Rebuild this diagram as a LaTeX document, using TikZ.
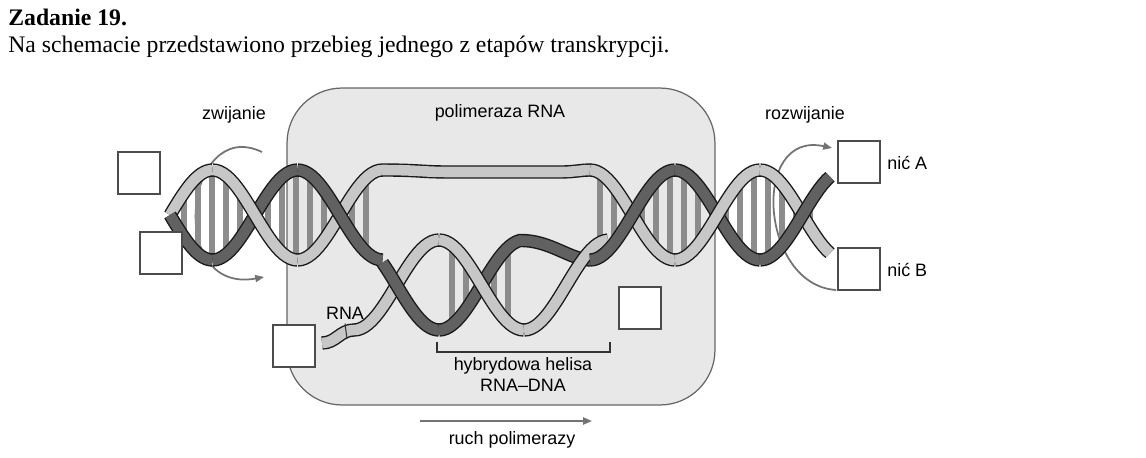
\documentclass[tikz,border=0pt]{standalone}
\usepackage{fontspec}
\setmainfont{Liberation Serif}
\newfontfamily\labfont{Liberation Sans}
\usetikzlibrary{arrows.meta}
\begin{document}
\begin{tikzpicture}[x=0.02cm,y=-0.02cm,
  lab/.style={font=\labfont\fontsize{10.2}{12}\selectfont,inner sep=0pt},
  box/.style={draw=black!70,fill=white,line width=0.6pt,minimum size=0.84cm,inner sep=0pt},
  dk/.style={draw=black!62,line width=6pt,preaction={draw=black!90,line width=7.6pt}},
  lt/.style={draw=black!22,line width=6pt,preaction={draw=black!90,line width=7.6pt}},
  rung/.style={draw=black!45,line width=3.2pt},
  garrow/.style={draw=black!55,line width=1pt,-{Triangle[length=5pt,width=4pt]}}]
\useasboundingbox (0,0) rectangle (1146,457);
\node[anchor=west,inner sep=0pt,font=\bfseries\fontsize{13.5}{15}\selectfont] (title) at (8,17) {Zadanie 19.};
\node[anchor=west,inner sep=0pt,font=\fontsize{13.5}{15}\selectfont] (intro) at (8,47) {Na schemacie przedstawiono przebieg jednego z etapów transkrypcji.};
% polymerase
\node[draw=black!60,fill=black!9,rounded corners=1.1cm,line width=0.7pt,minimum width=8.56cm,minimum height=6.34cm] (pol) at (501,246.5) {};
\node[lab] (polt) at (500,113) {polimeraza RNA};
\node[lab] (zw) at (234,115) {zwijanie};
\node[lab] (rw) at (805,115) {rozwijanie};
% curved arrows
\coordinate (la1) at (262,152); \coordinate (la2) at (264,277);
\draw[garrow] (la1) .. controls (185,115) and (165,295) .. (la2);
\coordinate (ra1) at (836,290); \coordinate (ra2) at (832,148);
\draw[garrow] (ra1) .. controls (760,285) and (750,130) .. (ra2);
% rungs
\foreach \x in {184,198,...,376}
  \draw[rung] (\x,{215+45*sin(2.117647*(\x-170))}) -- (\x,{215-45*sin(2.117647*(\x-170))});
\foreach \x in {452,466,...,520}
  \draw[rung] (\x,{285+45*sin(2.117647*(\x-396.5))}) -- (\x,{285-45*sin(2.117647*(\x-396.5))});
\foreach \x in {600,614,...,820}
  \draw[rung] (\x,{215+45*cos(2.117647*(\x-590))}) -- (\x,{215-45*cos(2.117647*(\x-590))});
% left helix
\draw[lt] plot[domain=170:212.5,samples=15] (\x,{215-45*sin(2.117647*(\x-170))});
\draw[dk] plot[domain=170:212.5,samples=15] (\x,{215+45*sin(2.117647*(\x-170))});
\draw[dk] plot[domain=212.5:297.5,samples=25] (\x,{215+45*sin(2.117647*(\x-170))});
\draw[lt] plot[domain=212.5:297.5,samples=25] (\x,{215-45*sin(2.117647*(\x-170))});
\draw[lt] plot[domain=297.5:382.5,samples=25] (\x,{215-45*sin(2.117647*(\x-170))});
\draw[dk] plot[domain=297.5:382.5,samples=25] (\x,{215+45*sin(2.117647*(\x-170))});
% top light strand
\draw[lt] (382,170) .. controls (420,170) and (420,172) .. (450,172) -- (560,172) .. controls (575,172) and (580,170) .. (591,170);
% RNA tail and hybrid
\node[lab] (rna) at (345,313) {RNA};
\coordinate (rnatip) at (347,339);
\draw[lt] (322,343) .. controls (336,343) and (340,330) .. (354,330) plot[domain=354:439,samples=25] (\x,{285-45*sin(2.117647*(\x-396.5))});
\draw[black!80,line width=0.6pt] (rna.south) ++(0,4) -- (rnatip);
\draw[dk] plot[domain=382.5:439,samples=20] (\x,{285+45*sin(2.117647*(\x-396.5))});
\draw[dk] plot[domain=439:520,samples=25] (\x,{285+45*sin(2.117647*(\x-396.5))}) .. controls (550,240) and (570,260) .. (591,260);
\draw[lt] plot[domain=439:524,samples=25] (\x,{285-45*sin(2.117647*(\x-396.5))});
\draw[lt] plot[domain=524:608,samples=25] (\x,{285-45*sin(2.117647*(\x-396.5))});
% right helix
\draw[lt] plot[domain=590:675,samples=25] (\x,{215-45*cos(2.117647*(\x-590))});
\draw[dk] plot[domain=590:675,samples=25] (\x,{215+45*cos(2.117647*(\x-590))});
\draw[dk] plot[domain=675:760,samples=25] (\x,{215+45*cos(2.117647*(\x-590))});
\draw[lt] plot[domain=675:760,samples=25] (\x,{215-45*cos(2.117647*(\x-590))});
\draw[lt] plot[domain=760:830,samples=20] (\x,{215-45*cos(2.117647*(\x-590))});
\draw[dk] plot[domain=760:830,samples=20] (\x,{215+45*cos(2.117647*(\x-590))});
% boxes
\node[box] (b1) at (139,173) {};
\node[box] (b2) at (161,253) {};
\node[box] (b3) at (294,346) {};
\node[box] (b4) at (640,308) {};
\node[box] (b5) at (859,162) {};
\node[box] (b6) at (859,269) {};
\node[lab,anchor=west] (na) at (887,163) {nić A};
\node[lab,anchor=west] (nb) at (887,270) {nić B};
% bracket
\coordinate (br1) at (437,342); \coordinate (br2) at (610,342);
\draw[black!80,line width=0.6pt] (br1) -- ++(0,10) -| (br2);
\node[lab] (hy) at (523,366) {hybrydowa helisa};
\node[lab] (hy2) at (523,385) {RNA–DNA};
% movement
\coordinate (m1) at (420,421); \coordinate (m2) at (592,421);
\draw[garrow] (m1) -- (m2);
\node[lab] (ruch) at (512,440) {ruch polimerazy};
\end{tikzpicture}
\end{document}
